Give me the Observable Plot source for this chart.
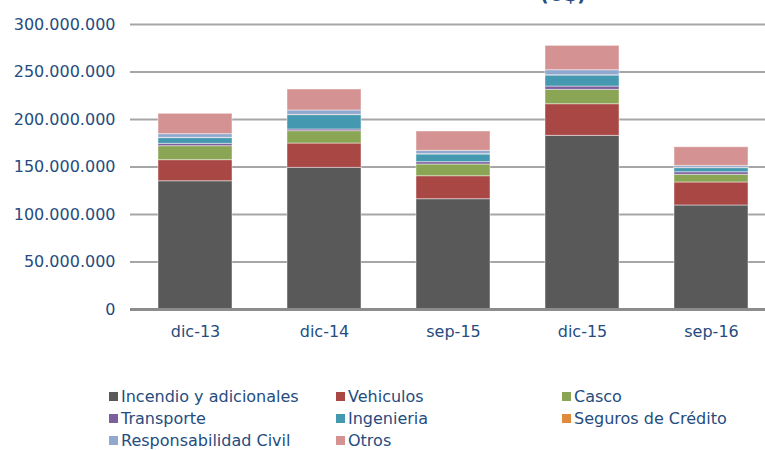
<!DOCTYPE html>
<html>
<head>
<meta charset="utf-8">
<script src="https://cdn.jsdelivr.net/npm/d3@7"></script>
<script src="https://cdn.jsdelivr.net/npm/@observablehq/plot@0.6"></script>
<style>
  html, body { margin: 0; padding: 0; background: #fff; }
  #wrap { position: relative; width: 765px; height: 450px; overflow: hidden; font-family: "DejaVu Sans", Verdana, sans-serif; }
  #title { position: absolute; left: 540px; top: -16px; font-size: 19px; line-height: 20px; font-weight: bold; color: #254C7E; white-space: nowrap; }
  #chart { position: absolute; left: 0; top: 0; width: 775px; }
  #chart svg { max-width: none !important; }
  .lg { position: absolute; font-size: 16px; color: #254C7E; white-space: nowrap; line-height: 20px; }
  .sw { display: inline-block; width: 9px; height: 9px; margin-right: 3px; vertical-align: 1px; }
</style>
</head>
<body>
<div id="wrap">
  <div id="chart"></div>
  <div id="title">(U$)</div>
  <div id="legend"></div>
</div>
<script>
const periods = ["dic-13", "dic-14", "sep-15", "dic-15", "sep-16"];
const seriesNames = ["Incendio y adicionales", "Vehiculos", "Casco", "Transporte", "Ingenieria", "Seguros de Crédito", "Responsabilidad Civil", "Otros"];
const seriesColors = ["#595959", "#A84744", "#8AA553", "#7D5F9C", "#4498AF", "#E08B3C", "#92A9CF", "#D49392"];
const incendio = [135.0, 149.1, 116.1, 182.8, 109.5];
const vehiculos = [22.2, 25.6, 24.2, 33.3, 24.2];
const casco = [14.7, 13.0, 12.3, 15.1, 8.1];
const transporte = [2.5, 1.8, 2.5, 3.5, 2.7];
const ingenieria = [6.0, 15.1, 8.1, 11.6, 4.3];
const seguros = [0.3, 0.3, 0.3, 0.3, 0.3];
const respCivil = [3.9, 4.6, 3.5, 5.3, 2.1];
const otros = [21.4, 22.1, 20.4, 25.6, 19.6];
const yTicks = [0, 50e6, 100e6, 150e6, 200e6, 250e6, 300e6];

const seriesValues = [incendio, vehiculos, casco, transporte, ingenieria, seguros, respCivil, otros];
const data = [];
periods.forEach((p, i) => {
  seriesNames.forEach((s, j) => {
    data.push({period: p, series: s, value: seriesValues[j][i] * 1e6});
  });
});

const fmt = d => d3.format(",")(d).replace(/,/g, ".");

const chart = Plot.plot({
  width: 775,
  height: 360,
  marginLeft: 130,
  marginRight: 0,
  marginTop: 24,
  marginBottom: 51,
  style: {fontFamily: "DejaVu Sans, Verdana, sans-serif", fontSize: "16px", color: "#254C7E", background: "transparent", maxWidth: "none"},
  x: {domain: periods, paddingInner: 0.43, paddingOuter: 0.215, label: null},
  y: {domain: [0, 300e6], label: null},
  color: {domain: seriesNames, range: seriesColors},
  marks: [
    Plot.gridY(yTicks, {stroke: "#A6A6A6", strokeOpacity: 1, strokeWidth: 2}),
    Plot.barY(data, {x: "period", y: "value", fill: "series", stroke: "#ffffff", strokeOpacity: 0.45, strokeWidth: 1, order: null}),
    Plot.ruleY([0], {stroke: "#8C8C8C", strokeWidth: 3}),
    Plot.axisY(yTicks, {tickFormat: fmt, tickSize: 0, tickPadding: 15, fill: "#254C7E", label: null}),
    Plot.axisX({tickSize: 0, tickPadding: 16, fill: "#254C7E", label: null})
  ]
});
document.getElementById("chart").appendChild(chart);

const legendCols = [109, 336, 562];
const legendRows = [387, 409, 431];
const legend = document.getElementById("legend");
seriesNames.forEach((s, i) => {
  const item = document.createElement("div");
  item.className = "lg";
  item.style.left = legendCols[i % 3] + "px";
  item.style.top = legendRows[Math.floor(i / 3)] + "px";
  const sw = document.createElement("span");
  sw.className = "sw";
  sw.style.background = seriesColors[i];
  item.appendChild(sw);
  item.appendChild(document.createTextNode(s));
  legend.appendChild(item);
});
</script>
</body>
</html>
